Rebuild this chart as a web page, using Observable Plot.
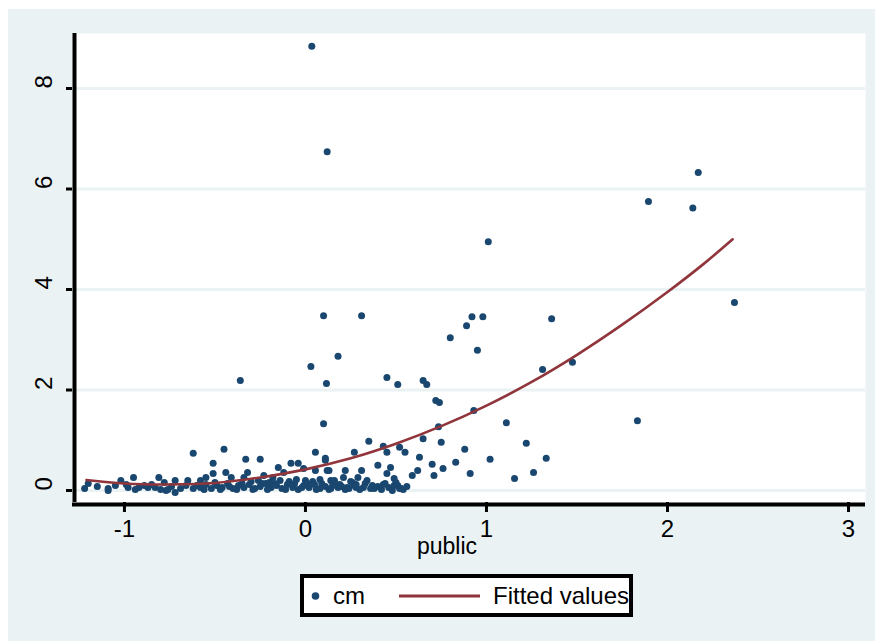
<!DOCTYPE html>
<html>
<head>
<meta charset="utf-8">
<script src="https://cdn.jsdelivr.net/npm/d3@7"></script>
<script src="https://cdn.jsdelivr.net/npm/@observablehq/plot@0.6"></script>
<style>
  body { margin: 0; background: #ffffff; font-family: "Liberation Sans", Arial, sans-serif; }
  #wrap { position: relative; width: 875px; height: 641px; overflow: hidden; }
  #bg { position: absolute; left: 8px; top: 9px; right: 0; bottom: 0; background: #eaf2f3; }
  #chart { position: absolute; left: 0; top: 0; }
  #legend { position: absolute; left: 300px; top: 574px; }
</style>
</head>
<body>
<div id="wrap">
  <div id="bg"></div>
  <div id="chart"></div>
  <div id="legend"></div>
</div>
<script>
// Scatter series "cm" vs "public"
const cmX = [
  0.035, 0.12, 0.10, 0.31, 0.03, 0.18, 0.116, -0.36, 0.10,
  1.01, 0.92, 0.98, 0.89, 0.80, 0.95, 1.36, 1.31, 1.475,
  1.895, 2.14, 2.17, 2.37, 1.834,
  0.45, 0.51, 0.65, 0.67, 0.72, 0.74, 0.93, 1.11, 0.735,
  1.22, 0.88, 0.75, 0.83, 1.02, 1.33, 0.91, 1.26, 1.155, 0.76,
  0.35, 0.27, 0.43, 0.45, 0.55, 0.52, 0.65, 0.63, 0.70, 0.71, 0.62, 0.59,
  0.40, 0.47, 0.45, 0.49, 0.51, 0.52, 0.37, 0.31, 0.29, 0.22, 0.21, 0.26,
  0.28, 0.23, 0.14, 0.13, 0.11, 0.18, 0.15,
  -0.45, -0.33, -0.25, 0.055, 0.11, -0.51, -0.51, -0.44, -0.55, -0.41,
  -0.32, -0.34, -0.15, -0.08, -0.04, -0.12, -0.01, 0.055, 0.12, -0.23, -0.18,
  -0.62, -1.20, -1.22, -1.09, -1.02, -0.95, -0.98, -0.92, -0.83, -0.81,
  -0.78, -0.72, -0.72, -0.76, -0.65, -0.62, -0.58, -1.09, -0.87, -0.77,
  -0.58, -0.55, -0.52, -0.49, -0.46, -0.43, -0.40, -0.37, -0.34, -0.31,
  -0.28, -0.25, -0.22, -0.19, -0.16, -0.13, -0.10, -0.07, -0.04, -0.01,
  0.02, 0.05, 0.08, 0.11, 0.14, 0.17, 0.20, 0.24, 0.28, 0.32, 0.36,
  0.40, 0.43, 0.46, 0.49, 0.53,
  -0.30, -0.26, -0.20, -0.14, -0.09, -0.05, 0.00, 0.04, 0.08, 0.16, 0.25, 0.34,
  -1.15, -1.05, -0.99, -0.94, -0.89, -0.85, -0.80, -0.74, -0.69, -0.66,
  -0.60, -0.56, -0.50, -0.47, -0.42, -0.38, -0.35, -0.29, -0.24, -0.21,
  -0.17, -0.11, -0.06, -0.02, 0.01, 0.06, 0.09, 0.13, 0.19, 0.22, 0.27,
  0.30, 0.33, 0.38, 0.42, 0.44, 0.48, 0.50, 0.54, 0.56
];
const cmY = [
  8.84, 6.74, 3.48, 3.48, 2.47, 2.67, 2.13, 2.19, 1.33,
  4.95, 3.46, 3.46, 3.28, 3.04, 2.79, 3.42, 2.41, 2.55,
  5.75, 5.62, 6.33, 3.74, 1.39,
  2.25, 2.11, 2.19, 2.11, 1.79, 1.75, 1.59, 1.35, 1.27,
  0.94, 0.82, 0.96, 0.56, 0.62, 0.64, 0.34, 0.36, 0.24, 0.44,
  0.98, 0.76, 0.88, 0.76, 0.76, 0.86, 1.03, 0.66, 0.52, 0.30, 0.40, 0.30,
  0.50, 0.46, 0.34, 0.24, 0.10, 0.04, 0.10, 0.40, 0.26, 0.40, 0.26, 0.16,
  0.06, 0.06, 0.20, 0.40, 0.60, 0.06, 0.10,
  0.82, 0.62, 0.62, 0.76, 0.64, 0.54, 0.34, 0.36, 0.26, 0.26,
  0.36, 0.26, 0.46, 0.54, 0.54, 0.36, 0.44, 0.40, 0.40, 0.30, 0.26,
  0.74, 0.14, 0.04, 0.04, 0.20, 0.26, 0.06, 0.06, 0.06, 0.26,
  0.16, 0.20, -0.04, 0.02, 0.20, 0.04, 0.20, 0.00, 0.06, 0.00,
  0.06, 0.12, 0.04, 0.10, 0.06, 0.14, 0.04, 0.10, 0.06, 0.12,
  0.04, 0.08, 0.14, 0.06, 0.10, 0.04, 0.12, 0.06, 0.02, 0.10,
  0.06, 0.12, 0.04, 0.08, 0.04, 0.12, 0.08, 0.04, 0.12, 0.06, 0.04,
  0.08, 0.12, 0.06, 0.10, 0.04,
  0.18, 0.20, 0.16, 0.20, 0.18, 0.22, 0.20, 0.18, 0.22, 0.20, 0.18, 0.20,
  0.08, 0.10, 0.12, 0.02, 0.10, 0.12, 0.02, 0.08, 0.04, 0.10,
  0.10, 0.02, 0.16, 0.02, 0.08, 0.02, 0.14, 0.02, 0.14, 0.02,
  0.14, 0.02, 0.14, 0.06, 0.14, 0.02, 0.14, 0.02, 0.12, 0.02, 0.10,
  0.02, 0.14, 0.04, 0.02, 0.14, 0.00, 0.16, 0.02, 0.08
];
// Fitted values
const fitX = [-1.21, -1.0, -0.75, -0.5, -0.25, 0, 0.25, 0.5, 0.75, 1.0, 1.25, 1.5, 1.75, 2.0, 2.2, 2.36];
const fitY = [0.21, 0.14, 0.12, 0.15, 0.26, 0.42, 0.64, 0.93, 1.28, 1.69, 2.16, 2.70, 3.30, 3.95, 4.51, 5.00];
// Axis ticks
const xTicks = [-1, 0, 1, 2, 3];
const yTicks = [0, 2, 4, 6, 8];
const xTitle = "public";
const legendLabels = ["cm", "Fitted values"];

const navy = "#1a476f";
const maroon = "#90353b";
const bgc = "#eaf2f3";

const pts = cmX.map((x, i) => ({x, y: cmY[i]}));
const fit = fitX.map((x, i) => ({x, y: fitY[i]}));
const xDom = [-1.287, 3.094];
const yDom = [-0.239, 9.095];

const chart = Plot.plot({
  width: 875,
  height: 570,
  marginLeft: 72,
  marginRight: 10,
  marginTop: 33,
  marginBottom: 68,
  style: {background: "transparent", fontFamily: "'Liberation Sans', Arial, sans-serif", color: "black"},
  x: {domain: xDom},
  y: {domain: yDom},
  marks: [
    Plot.frame({fill: "white", stroke: null}),
    Plot.gridY(yTicks, {stroke: bgc, strokeOpacity: 1, strokeWidth: 3}),
    Plot.dot(pts, {x: "x", y: "y", r: 3.5, fill: navy, stroke: null}),
    Plot.line(fit, {x: "x", y: "y", stroke: maroon, strokeWidth: 2.6, curve: "catmull-rom"}),
    Plot.ruleX([xDom[0]], {stroke: "black", strokeWidth: 4, dx: 2}),
    Plot.ruleY([yDom[0]], {stroke: "black", strokeWidth: 4, dy: 2}),
    Plot.axisY({ticks: yTicks, tickSize: 6, strokeWidth: 3, tickFormat: () => "", label: null}),
    Plot.text(yTicks, {frameAnchor: "left", y: d => d, text: d => String(d), rotate: -90, dx: -28.5, fontSize: 24, fill: "black"}),
    Plot.axisX({ticks: xTicks, tickSize: 10, strokeWidth: 3, tickPadding: 7, fontSize: 24, tickFormat: d => String(d), label: null}),
    Plot.text([xTitle], {frameAnchor: "bottom", text: d => d, dx: -22, dy: 51, fontSize: 23, fill: "black"})
  ]
});
document.getElementById("chart").appendChild(chart);

// Legend
const lg = d3.select("#legend").append("svg").attr("width", 333).attr("height", 43);
lg.append("rect").attr("x", 2).attr("y", 2).attr("width", 329).attr("height", 39)
  .attr("fill", "white").attr("stroke", "black").attr("stroke-width", 4);
lg.append("circle").attr("cx", 15.5).attr("cy", 22).attr("r", 3.8).attr("fill", navy);
lg.append("text").attr("x", 33).attr("y", 30).attr("font-size", 24)
  .attr("font-family", "'Liberation Sans', Arial, sans-serif").text(legendLabels[0]);
lg.append("line").attr("x1", 99).attr("x2", 180).attr("y1", 22).attr("y2", 22)
  .attr("stroke", maroon).attr("stroke-width", 3);
lg.append("text").attr("x", 193).attr("y", 30).attr("font-size", 24)
  .attr("font-family", "'Liberation Sans', Arial, sans-serif").text(legendLabels[1]);
</script>
</body>
</html>
